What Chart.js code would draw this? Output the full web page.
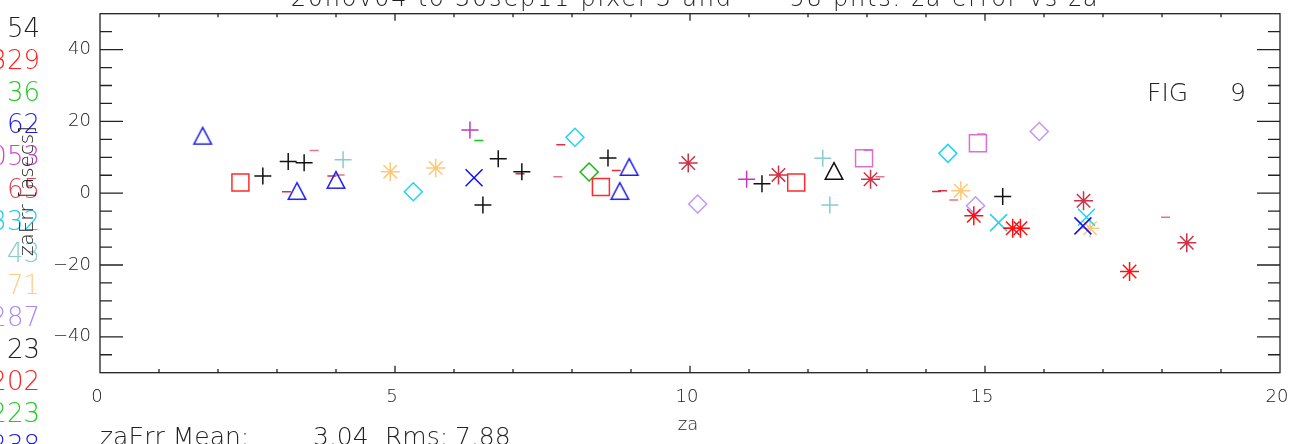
<!DOCTYPE html>
<html>
<head>
<meta charset="utf-8">
<title>zaErr vs za</title>
<script src="https://cdn.jsdelivr.net/npm/chart.js@4.4.0/dist/chart.umd.min.js"></script>
<style>
  html, body { margin: 0; padding: 0; background: #fff; }
  #wrap { width: 1299px; height: 444px; }
</style>
</head>
<body>
<div id="wrap"><canvas id="zaChart" width="1299" height="444"></canvas></div>
<script>
// pontos: [za, zaErr]
const blackPlus = [[2.76, 4.8], [3.19, 8.8], [3.46, 8.5], [6.49, -3.3], [6.75, 9.6], [7.15, 6.0], [8.61, 9.8], [11.22, 2.6], [15.30, -0.95]];
const blackTriangle = [[12.44, 6.2]];
const redSquare = [[2.38, 2.95], [8.49, 1.75], [11.80, 2.95]];
const redStar = [[14.81, -6.3], [15.47, -9.75], [15.60, -9.75], [17.45, -21.8]];
const redDash = [[3.16, 0.4], [7.81, 13.5], [8.75, 6.3]];
const blueTriangle = [[1.74, 16.0], [3.34, 0.6], [4.00, 3.7], [8.97, 7.3], [8.81, 0.6]];
const blueX = [[6.34, 4.3], [16.66, -9.1]];
const greenDiamond = [[8.29, 5.9]];
const greenDash = [[6.42, 14.7]];
const magentaPlus = [[6.27, 17.6], [10.96, 3.9]];
const magentaSquare = [[12.95, 9.75], [14.88, 13.9]];
const magentaDash = [[13.02, 12.0], [14.94, 16.4]];
const crimsonStar = [[9.97, 8.4], [11.50, 5.1], [13.06, 3.9], [16.67, -2.1], [18.42, -13.8]];
const crimsonDash = [[3.93, 4.8], [7.12, 5.4], [14.18, 0.5], [14.28, 0.7]];
const pinkDash = [[3.63, 11.9], [4.07, 5.1], [7.76, 4.6], [13.22, 4.6], [14.47, -1.9], [15.39, -9.7], [18.06, -6.7]];
const cyanDiamond = [[5.31, 0.4], [8.05, 15.6], [14.37, 11.1]];
const cyanX = [[15.23, -8.2], [16.72, -6.7]];
const tealPlus = [[4.12, 9.3], [12.25, 9.75], [12.37, -3.3]];
const orangeStar = [[4.92, 6.0], [5.69, 7.0], [14.59, 0.7], [16.78, -9.75]];
const lavenderDiamond = [[10.13, -3.0], [15.92, 17.2], [14.84, -3.5]];

// números da coluna da esquerda (cortados na borda)
const sourceLabels = ['54', '329', '36', '62', '053', '65', '332', '43', '71', '287', '23', '202', '223', '238'];
const sourceColors = ['#222222', '#ff2020', '#22cc22', '#1a1aff', '#cc44cc', '#dd4455', '#22ccee', '#88cccc', '#ffcc88', '#aa88ff', '#222222', '#ff2020', '#22cc22', '#1a1aff'];

const xTicks = [0, 5, 10, 15, 20];
const yTicks = [-40, -20, 0, 20, 40];
const statsMean = '3.04';
const statsRms = '7.88';

const fontFam = '"DejaVu Sans", sans-serif';
const ink = '#222';

// tamanho de cada estilo de marcador
const radiusFor = { cross: 8.5, crossRot: 12, star: 9.5, rect: 12, rectRot: 9, triangle: 10, line: 4.5 };

// triângulo do IDL: centrado na caixa, não no baricentro
function triangulo(cor) {
  const c = document.createElement('canvas');
  c.width = 22; c.height = 22;
  const g = c.getContext('2d');
  g.strokeStyle = cor;
  g.lineWidth = 1.5;
  g.beginPath();
  g.moveTo(2.2, 19.3);
  g.lineTo(11, 2.7);
  g.lineTo(19.8, 19.3);
  g.closePath();
  g.stroke();
  return c;
}

function serie(pontos, estilo, cor) {
  return {
    data: pontos.map(p => ({ x: p[0], y: p[1] })),
    pointStyle: estilo === 'triangle' ? triangulo(cor) : estilo,
    pointRadius: radiusFor[estilo],
    pointHoverRadius: radiusFor[estilo],
    borderColor: cor,
    backgroundColor: 'rgba(0,0,0,0)',
    pointBorderWidth: 1.5,
    showLine: false
  };
}

const datasets = [
  serie(blackPlus, 'cross', '#111111'),
  serie(blackTriangle, 'triangle', '#111111'),
  serie(redSquare, 'rect', '#ff2a2a'),
  serie(redStar, 'star', '#ff1010'),
  serie(redDash, 'line', '#e03040'),
  serie(blueTriangle, 'triangle', '#2020ee'),
  serie(blueX, 'crossRot', '#1010ee'),
  serie(greenDiamond, 'rectRot', '#11bb11'),
  serie(greenDash, 'line', '#11cc11'),
  serie(magentaPlus, 'cross', '#cc33bb'),
  serie(magentaSquare, 'rect', '#dd70cc'),
  serie(magentaDash, 'line', '#cc33bb'),
  serie(crimsonStar, 'star', '#cc3348'),
  serie(crimsonDash, 'line', '#cc3348'),
  serie(pinkDash, 'line', '#e07888'),
  serie(cyanDiamond, 'rectRot', '#22d4f0'),
  serie(cyanX, 'crossRot', '#22d4f0'),
  serie(tealPlus, 'cross', '#88cccc'),
  serie(orangeStar, 'star', '#ffc878'),
  serie(lavenderDiamond, 'rectRot', '#bb99ff')
];

// moldura com marcas para dentro, estilo IDL
const frameTicks = {
  id: 'frameTicks',
  afterDraw(chart) {
    const { ctx, chartArea: a, scales: { x, y } } = chart;
    ctx.save();
    ctx.strokeStyle = ink;
    ctx.lineWidth = 1.3;
    ctx.strokeRect(a.left, a.top, a.right - a.left, a.bottom - a.top);
    ctx.beginPath();
    x.ticks.forEach(t => {
      if (t.value <= 0 || t.value >= 20) return;
      const px = x.getPixelForValue(t.value);
      const len = xTicks.includes(t.value) ? 7 : 3.6;
      ctx.moveTo(px, a.bottom); ctx.lineTo(px, a.bottom - len);
      ctx.moveTo(px, a.top); ctx.lineTo(px, a.top + len);
    });
    y.ticks.forEach(t => {
      if (Math.abs(t.value) >= 50) return;
      const py = y.getPixelForValue(t.value);
      const len = yTicks.includes(t.value) ? 23 : 12;
      ctx.moveTo(a.left, py); ctx.lineTo(a.left + len, py);
      ctx.moveTo(a.right, py); ctx.lineTo(a.right - len, py);
    });
    ctx.stroke();
    ctx.restore();
  }
};

// textos soltos: título, coluna de números, títulos dos eixos, estatística
const textos = {
  id: 'textos',
  afterDraw(chart) {
    const { ctx, chartArea: a } = chart;
    ctx.save();
    ctx.fillStyle = ink;
    ctx.textBaseline = 'alphabetic';

    ctx.font = '200 24px ' + fontFam;
    ctx.letterSpacing = '1.8px';
    ctx.textAlign = 'center';
    ctx.fillText('20nov04 to 30sep11 pixel 3 and      58 pnts. za error vs za', 695, 6);
    ctx.letterSpacing = '0px';

    ctx.font = '200 26px ' + fontFam;
    ctx.textAlign = 'right';
    sourceLabels.forEach((lab, i) => {
      ctx.fillStyle = sourceColors[i];
      ctx.fillText(lab, 40, 37 + i * 32.1);
    });

    ctx.fillStyle = ink;
    ctx.save();
    ctx.translate(33, 191);
    ctx.rotate(-Math.PI / 2);
    ctx.textAlign = 'center';
    ctx.font = '200 20px ' + fontFam;
    ctx.fillText('zaErr [asecs]', 0, 0);
    ctx.restore();

    ctx.textAlign = 'center';
    ctx.font = '200 18px ' + fontFam;
    ctx.fillText('za', (a.left + a.right) / 2 - 2, 430);

    ctx.font = '200 25px ' + fontFam;
    ctx.textAlign = 'left';
    ctx.fillText('FIG', 1147, 101);
    ctx.textAlign = 'right';
    ctx.fillText('9', 1246, 101);

    ctx.textAlign = 'left';
    ctx.fillText('zaErr Mean:', 100, 445);
    ctx.fillText(statsMean, 313, 445);
    ctx.fillText('Rms:', 385, 445);
    ctx.fillText(statsRms, 455, 445);
    ctx.restore();
  }
};

const ctx = document.getElementById('zaChart').getContext('2d');
window.zaChart = new Chart(ctx, {
  type: 'scatter',
  data: { datasets },
  options: {
    responsive: false,
    animation: false,
    layout: { padding: { left: 0, right: 19, top: 13.7, bottom: 0 } },
    plugins: { legend: { display: false }, tooltip: { enabled: false }, title: { display: false } },
    scales: {
      x: {
        type: 'linear',
        min: 0,
        max: 20,
        ticks: {
          stepSize: 1,
          autoSkip: false,
          maxRotation: 0,
          padding: 14,
          labelOffset: -3,
          color: ink,
          font: { family: fontFam, size: 18, weight: 200 },
          callback: v => (xTicks.includes(v) ? String(v) : '')
        },
        grid: { drawOnChartArea: false, drawTicks: false },
        border: { display: false },
        afterFit: s => { s.height = 71.3; s.paddingLeft = 0; s.paddingRight = 0; }
      },
      y: {
        type: 'linear',
        min: -50,
        max: 50,
        ticks: {
          stepSize: 5,
          autoSkip: false,
          padding: 9,
          color: ink,
          font: { family: fontFam, size: 18, weight: 200 },
          callback: v => (yTicks.includes(v) ? (v < 0 ? '\u2212' + Math.abs(v) : String(v)) : '')
        },
        grid: { drawOnChartArea: false, drawTicks: false },
        border: { display: false },
        afterFit: s => { s.width = 100; s.paddingTop = 0; s.paddingBottom = 0; }
      }
    }
  },
  plugins: [frameTicks, textos]
});
</script>
</body>
</html>
